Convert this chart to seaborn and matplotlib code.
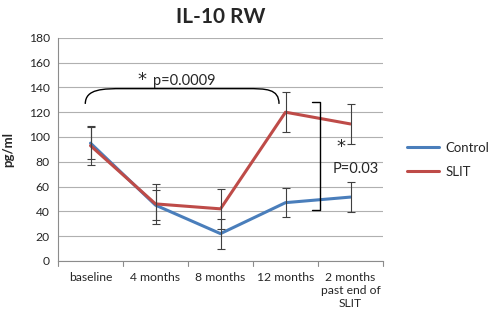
import matplotlib
matplotlib.use('Agg')
import matplotlib.pyplot as plt
from matplotlib.path import Path
from matplotlib.patches import PathPatch
from matplotlib.lines import Line2D
import pandas as pd
import seaborn as sns

# values
timepoints = ['baseline', '4 months', '8 months', '12 months', '2 months\npast end of\nSLIT']
control = [95, 45, 22, 47, 51.5]
control_err = [13, 12, 12, 11.5, 12]
slit = [93, 46, 42, 120, 110.5]
slit_err = [16, 16, 16, 16, 16]

df = pd.DataFrame({
    'pos': list(range(5)) * 2,
    'value': control + slit,
    'err': control_err + slit_err,
    'group': ['Control'] * 5 + ['SLIT'] * 5,
})

sns.set_style('white')
plt.rcParams['font.family'] = ['Lato', 'DejaVu Sans']

fig = plt.figure(figsize=(5, 3.29), dpi=100)
ax = fig.add_axes([0.116, 0.207, 0.65, 0.678])

palette = {'Control': '#4a7ebb', 'SLIT': '#be4b48'}
sns.lineplot(data=df, x='pos', y='value', hue='group', palette=palette,
             linewidth=2.2, ax=ax, legend=False)
for g in ['Control', 'SLIT']:
    sub = df[df['group'] == g]
    ax.errorbar(sub['pos'], sub['value'], yerr=sub['err'], fmt='none',
                ecolor='#404040', elinewidth=0.8, capsize=3, capthick=0.8, zorder=3)

ax.set_xlim(-0.5, 4.5)
ax.set_ylim(0, 180)
ax.set_yticks(range(0, 181, 20))
ax.set_xticks(range(5))
ax.set_xticklabels(timepoints, fontsize=8.7)
ax.tick_params(axis='y', labelsize=8.7, length=0, pad=6)
ax.tick_params(axis='x', length=0, pad=8)
ax.grid(axis='y', color='#b0b0b0', linewidth=0.8)
for b in [-0.5, 0.5, 1.5, 2.5, 3.5, 4.5]:
    ax.plot([b, b], [0, -4], color='#8c8c8c', linewidth=0.8, clip_on=False)
for s in ['top', 'right']:
    ax.spines[s].set_visible(False)
for s in ['left', 'bottom']:
    ax.spines[s].set_color('#8c8c8c')
    ax.spines[s].set_linewidth(0.8)
ax.set_xlabel('')
ax.set_ylabel('pg/ml', fontsize=9.5, fontweight='bold', labelpad=10)
ax.set_title('IL-10 RW', fontsize=15, fontweight='bold', pad=11)

# curly brace over baseline..12 months
verts = [(-0.08, 126.7), (-0.08, 139), (0.2, 139), (0.5, 139),
         (2.4, 139), (2.7, 139), (2.9, 139), (2.9, 126.7)]
codes = [Path.MOVETO, Path.CURVE4, Path.CURVE4, Path.CURVE4,
         Path.LINETO, Path.CURVE4, Path.CURVE4, Path.CURVE4]
ax.add_patch(PathPatch(Path(verts, codes), fill=False, lw=1.0, color='black'))
ax.text(0.79, 146, '*', fontsize=13, ha='center', va='center', family='DejaVu Sans')
ax.text(1.45, 145, 'p=0.0009', fontsize=10.5, ha='center', va='center')

# square bracket at 12 months
ax.plot([3.41, 3.53, 3.53, 3.41], [128.6, 128.6, 41.2, 41.2], color='black',
        lw=1.0, clip_on=False)
ax.text(3.86, 92, '*', fontsize=13, ha='center', va='center', family='DejaVu Sans')
ax.text(4.08, 74, 'P=0.03', fontsize=10.5, ha='center', va='center')

# legend outside
handles = [Line2D([], [], color=palette[g], lw=2.2) for g in ['Control', 'SLIT']]
fig.legend(handles, ['Control', 'SLIT'], loc='center left', bbox_to_anchor=(0.79, 0.515),
           frameon=False, fontsize=9.5, handlelength=2.4, handletextpad=0.5,
           labelspacing=0.9)

fig.savefig('out.png', dpi=100)
